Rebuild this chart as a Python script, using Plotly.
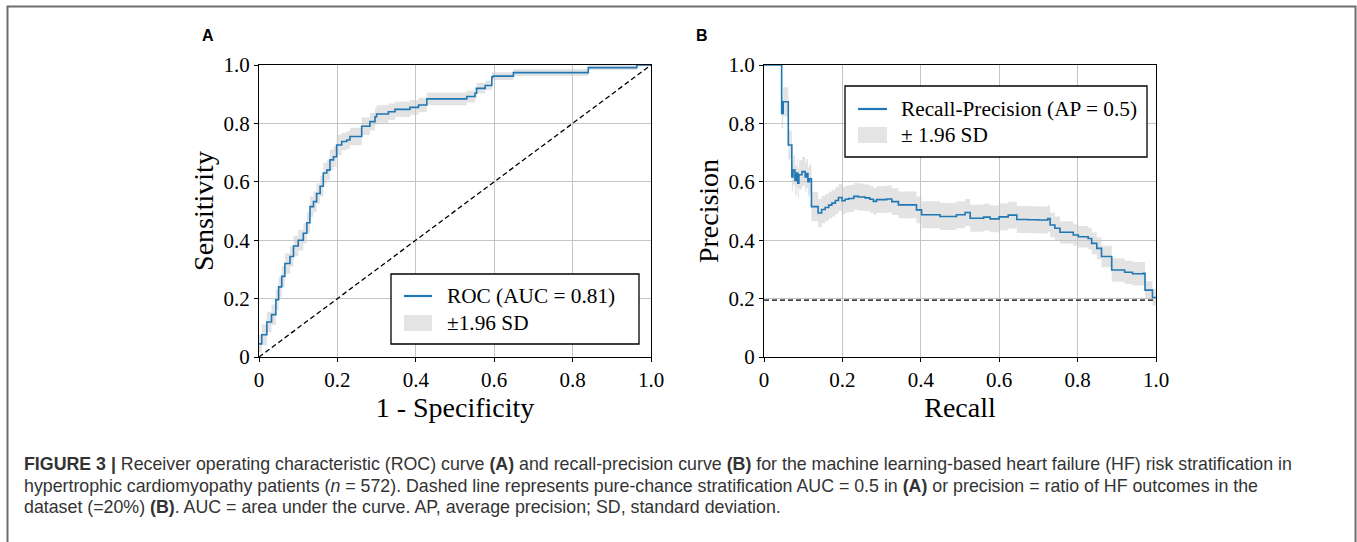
import plotly.graph_objects as go

# ---------------- data ----------------
roc_fpr = [0, 0.007, 0.02, 0.032, 0.043, 0.05, 0.058, 0.066, 0.079, 0.088, 0.1, 0.113, 0.122, 0.13,
           0.139, 0.147, 0.156, 0.164, 0.173, 0.181, 0.19, 0.198, 0.211, 0.224, 0.232, 0.262, 0.283,
           0.296, 0.3, 0.33, 0.347, 0.385, 0.407, 0.428, 0.53, 0.551, 0.555, 0.577, 0.594, 0.598,
           0.649, 0.84, 0.964, 1.0]
roc_tpr = [0.045, 0.076, 0.12, 0.145, 0.196, 0.24, 0.276, 0.32, 0.344, 0.38, 0.40, 0.424, 0.46, 0.515,
           0.532, 0.56, 0.585, 0.63, 0.64, 0.675, 0.686, 0.726, 0.738, 0.743, 0.755, 0.79, 0.806,
           0.823, 0.832, 0.84, 0.848, 0.855, 0.863, 0.884, 0.892, 0.903, 0.92, 0.93, 0.96, 0.962,
           0.974, 0.991, 1.0, 1.0]
roc_sd = [0.03, 0.035, 0.035, 0.035, 0.035, 0.035, 0.035, 0.035, 0.035, 0.035, 0.035, 0.035, 0.035, 0.035,
          0.035, 0.035, 0.035, 0.035, 0.035, 0.035, 0.035, 0.035, 0.03, 0.03, 0.03, 0.03, 0.03,
          0.03, 0.03, 0.028, 0.026, 0.025, 0.025, 0.022, 0.02, 0.02, 0.018, 0.016, 0.014, 0.013,
          0.012, 0.008, 0.004, 0.004]

pr_recall = [0, 0.045, 0.049, 0.062, 0.071, 0.074, 0.079, 0.083, 0.086, 0.089, 0.097, 0.105, 0.108,
             0.112, 0.116, 0.121, 0.138, 0.147, 0.156, 0.165, 0.173, 0.182, 0.19, 0.199, 0.207,
             0.216, 0.229, 0.241, 0.258, 0.27, 0.279, 0.287, 0.313, 0.326, 0.343, 0.389, 0.402,
             0.449, 0.491, 0.513, 0.526, 0.56, 0.577, 0.60, 0.623, 0.645, 0.674, 0.70, 0.724,
             0.73, 0.742, 0.755, 0.789, 0.802, 0.827, 0.836, 0.849, 0.861, 0.887, 0.92, 0.94,
             0.968, 0.972, 0.991, 1.0]
pr_precision = [1.0, 0.834, 0.874, 0.726, 0.617, 0.640, 0.605, 0.63, 0.595, 0.624, 0.635, 0.617, 0.628,
                0.60, 0.61, 0.515, 0.493, 0.505, 0.512, 0.52, 0.527, 0.536, 0.546, 0.535, 0.54,
                0.543, 0.55, 0.548, 0.545, 0.54, 0.533, 0.539, 0.541, 0.532, 0.521, 0.504, 0.487,
                0.481, 0.487, 0.495, 0.475, 0.479, 0.473, 0.48, 0.486, 0.471, 0.47, 0.469, 0.474,
                0.452, 0.441, 0.427, 0.418, 0.412, 0.406, 0.389, 0.372, 0.344, 0.298, 0.29, 0.285,
                0.287, 0.229, 0.204, 0.204]
pr_sd = [0.0, 0.05, 0.05, 0.05, 0.05, 0.05, 0.05, 0.05, 0.05, 0.05, 0.05, 0.05, 0.05,
         0.05, 0.05, 0.05, 0.048, 0.047, 0.046, 0.046, 0.046, 0.046, 0.046, 0.046, 0.046,
         0.046, 0.046, 0.046, 0.046, 0.046, 0.046, 0.046, 0.046, 0.046, 0.046, 0.046, 0.046,
         0.046, 0.046, 0.046, 0.046, 0.046, 0.046, 0.046, 0.046, 0.046, 0.046, 0.046, 0.046,
         0.042, 0.04, 0.038, 0.037, 0.037, 0.037, 0.037, 0.037, 0.037, 0.04, 0.04, 0.04,
         0.04, 0.03, 0.028, 0.028]

pr_baseline = 0.195

tick_vals = [0, 0.2, 0.4, 0.6, 0.8, 1.0]
tick_text = ["0", "0.2", "0.4", "0.6", "0.8", "1.0"]

roc_legend = ["ROC (AUC = 0.81)", "±1.96 SD"]
pr_legend = ["Recall-Precision (AP = 0.5)", "± 1.96 SD"]

caption_lines = [
    "<b>FIGURE 3 |</b> Receiver operating characteristic (ROC) curve <b>(A)</b> and recall-precision curve "
    "<b>(B)</b> for the machine learning-based heart failure (HF) risk stratification in",
    "hypertrophic cardiomyopathy patients (<i>n</i> = 572). Dashed line represents pure-chance stratification "
    "AUC = 0.5 in <b>(A)</b> or precision = ratio of HF outcomes in the",
    "dataset (=20%) <b>(B)</b>. AUC = area under the curve. AP, average precision; SD, standard deviation.",
]

# ---------------- layout helpers ----------------
W, H = 1357, 542
def X(px):
    return px / W
def Y(py):
    return 1 - py / H

BLUE = "#1f77b4"
BAND = "rgba(200,200,200,0.5)"
SERIF = "Liberation Serif"
SANS = "Liberation Sans"

fig = go.Figure()

def add_panel(xs, ys, sd, xa, ya):
    lo = [y - s for y, s in zip(ys, sd)]
    hi = [min(y + s, 1.02) for y, s in zip(ys, sd)]
    fig.add_trace(go.Scatter(x=xs, y=lo, mode="lines", line=dict(width=0, shape="hv"),
                             xaxis=xa, yaxis=ya, showlegend=False, hoverinfo="skip"))
    fig.add_trace(go.Scatter(x=xs, y=hi, mode="lines", line=dict(width=0, shape="hv"),
                             fill="tonexty", fillcolor=BAND,
                             xaxis=xa, yaxis=ya, showlegend=False, hoverinfo="skip"))
    fig.add_trace(go.Scatter(x=xs, y=ys, mode="lines", line=dict(color=BLUE, width=1.6, shape="hv"),
                             xaxis=xa, yaxis=ya, showlegend=False))

add_panel(roc_fpr, roc_tpr, roc_sd, "x", "y")
fig.add_trace(go.Scatter(x=[0, 1], y=[0, 1], mode="lines",
                         line=dict(color="black", width=1.3, dash="5px,3px"),
                         xaxis="x", yaxis="y", showlegend=False))
add_panel(pr_recall, pr_precision, pr_sd, "x2", "y2")
fig.add_trace(go.Scatter(x=[0, 1], y=[pr_baseline, pr_baseline], mode="lines",
                         line=dict(color="black", width=1.3, dash="5px,3px"),
                         xaxis="x2", yaxis="y2", showlegend=False))

axis_common = dict(range=[0, 1], tickvals=tick_vals, ticktext=tick_text,
                   showline=True, linecolor="black", linewidth=1, mirror=True,
                   ticks="outside", ticklen=4, tickcolor="black", automargin=False,
                   showgrid=True, gridcolor="#c4c4c4", gridwidth=1, zeroline=False,
                   tickfont=dict(family=SERIF, size=21, color="black"))

fig.update_layout(
    template="none",
    width=W, height=H, autosize=False,
    margin=dict(l=0, r=0, t=0, b=0, pad=0, autoexpand=False),
    paper_bgcolor="white", plot_bgcolor="white",
    xaxis=dict(domain=[X(259), X(651)], anchor="y",
               title=dict(text="1 - Specificity", font=dict(family=SERIF, size=28, color="black"), standoff=4),
               **axis_common),
    yaxis=dict(domain=[Y(357), Y(65)], anchor="x",
               title=dict(text="Sensitivity", font=dict(family=SERIF, size=28, color="black"), standoff=1),
               **axis_common),
    xaxis2=dict(domain=[X(764), X(1156)], anchor="y2",
                title=dict(text="Recall", font=dict(family=SERIF, size=28, color="black"), standoff=4),
                **axis_common),
    yaxis2=dict(domain=[Y(357), Y(65)], anchor="x2",
                title=dict(text="Precision", font=dict(family=SERIF, size=28, color="black"), standoff=1),
                **axis_common),
)

shapes = []
annotations = []

# outer frame
shapes.append(dict(type="rect", xref="paper", yref="paper", x0=X(7.5), x1=X(1355.5), y0=Y(560), y1=Y(6.5),
                   line=dict(color="#6e6e6e", width=2), fillcolor="rgba(0,0,0,0)"))

# legends (manual, matplotlib style)
def legend(box, line_y, patch, text_x, texts, text_ys):
    x0, y0, x1, y1 = box
    shapes.append(dict(type="rect", xref="paper", yref="paper", x0=X(x0), x1=X(x1), y0=Y(y1), y1=Y(y0),
                       line=dict(color="black", width=1.3), fillcolor="white", layer="above"))
    lx0, lx1 = patch[0], patch[2]
    shapes.append(dict(type="line", xref="paper", yref="paper", x0=X(lx0), x1=X(lx1), y0=Y(line_y), y1=Y(line_y),
                       line=dict(color=BLUE, width=2.2), layer="above"))
    shapes.append(dict(type="rect", xref="paper", yref="paper", x0=X(patch[0]), x1=X(patch[2]),
                       y0=Y(patch[3]), y1=Y(patch[1]), line=dict(width=0), fillcolor="#e4e4e4", layer="above"))
    for t, ty in zip(texts, text_ys):
        annotations.append(dict(text=t, xref="paper", yref="paper", x=X(text_x), y=Y(ty),
                                xanchor="left", yanchor="middle", showarrow=False,
                                font=dict(family=SERIF, size=21.3, color="black")))

legend((391, 274, 639, 344), 296, (404, 315, 432, 331), 445, roc_legend, [296, 323])
legend((845, 86, 1147, 157), 109, (858, 127, 887, 143), 899, pr_legend, [109, 135])

# panel labels
for lab, px in (("A", 208), ("B", 702)):
    annotations.append(dict(text="<b>%s</b>" % lab, xref="paper", yref="paper", x=X(px), y=Y(35),
                            xanchor="center", yanchor="middle", showarrow=False,
                            font=dict(family=SANS, size=16, color="black")))

# caption
for line, py in zip(caption_lines, [464, 486, 507]):
    annotations.append(dict(text=line, xref="paper", yref="paper", x=X(22), y=Y(py),
                            xanchor="left", yanchor="middle", showarrow=False,
                            font=dict(family=SANS, size=17.8, color="#333333")))

fig.update_layout(shapes=shapes, annotations=annotations)

fig.write_html("out.html", config={"displayModeBar": False},
               post_script="document.body.style.margin='0px';")
